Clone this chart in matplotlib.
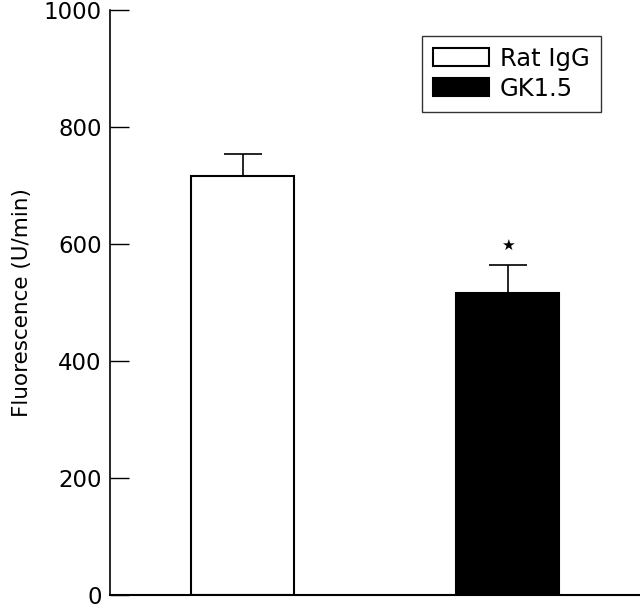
import numpy as np
import matplotlib
matplotlib.use('Agg')
import matplotlib.pyplot as plt

groups = ['Rat IgG', 'GK1.5']
means = [716, 517]
errs = [38, 47]
colors = ['white', 'black']
yticks = [0, 200, 400, 600, 800, 1000]

plt.rcParams['font.family'] = 'DejaVu Sans'

fig = plt.figure(figsize=(6.4, 6.04), dpi=100)
ax = fig.add_axes([110/640, 1 - 595/604, 530/640, 585/604])

x = np.arange(len(groups))
bars = ax.bar(x, means, width=0.39, color=colors, edgecolor='black', linewidth=1.5,
              label=groups, zorder=2)
for xi, m, e in zip(x, means, errs):
    ax.errorbar(xi, m, yerr=[[0], [e]], fmt='none', ecolor='black', elinewidth=1.2,
                capsize=14, capthick=1.2, zorder=1)

ax.text(x[1], means[1] + errs[1] + 33, '\u2605', ha='center', va='center', fontsize=11)

ax.set_xlim(-0.5, 1.5)
ax.set_ylim(0, 1000)
ax.set_yticks(yticks)
ax.set_xticks([])
ax.tick_params(axis='y', direction='in', length=14, width=1, labelsize=16.5, pad=6)
for s in ['top', 'right']:
    ax.spines[s].set_visible(False)
ax.spines['left'].set_linewidth(1.2)
ax.spines['bottom'].set_linewidth(1.5)
ax.set_ylabel('Fluorescence (U/min)', fontsize=15.5, labelpad=8)

leg = ax.legend(handles=list(bars), labels=groups, loc='upper right',
                bbox_to_anchor=(0.926, 0.956), borderaxespad=0, fontsize=17.5,
                frameon=True, fancybox=False, edgecolor='black',
                handlelength=2.3, handleheight=0.75,
                borderpad=0.45, labelspacing=0.25, handletextpad=0.45)
leg.get_frame().set_linewidth(1.0)

fig.savefig('out.png', dpi=100)
